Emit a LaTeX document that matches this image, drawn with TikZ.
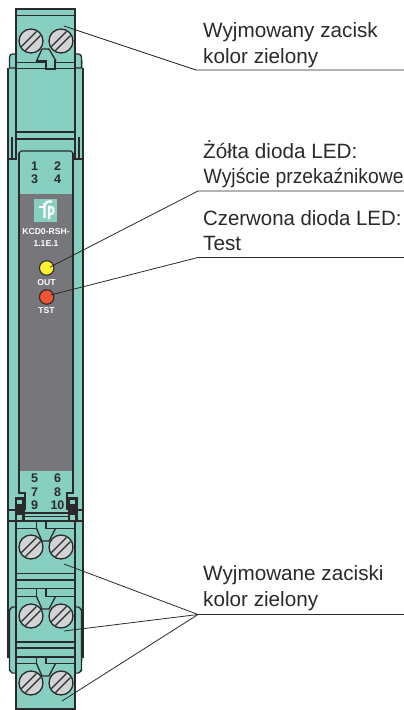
\documentclass[tikz,border=0pt]{standalone}
\usepackage{fontspec}
\setmainfont{Liberation Sans}
\definecolor{tealg}{HTML}{87CFC0}
\definecolor{greyp}{HTML}{77777B}
\definecolor{ink}{HTML}{2A2A2C}
\definecolor{screwc}{HTML}{D2D3D5}
\definecolor{ledyc}{HTML}{FFF033}
\definecolor{ledrc}{HTML}{EE5533}
\tikzset{
 px/.style={x=1pt,y=-1pt},
 body/.style={draw=ink,line width=1.3pt,fill=tealg},
 rule/.style={draw=ink,line width=1.3pt},
 heavy/.style={draw=ink,line width=2pt},
 leader/.style={draw=ink,line width=.8pt},
 lab/.style={anchor=base west,font=\fontsize{20.7}{24}\selectfont,text=ink,inner sep=0pt,align=left},
 term/.style={font=\bfseries\fontsize{12.5}{13}\selectfont,text=ink,inner sep=0pt},
 small/.style={font=\bfseries\fontsize{8.6}{9}\selectfont,text=white,inner sep=0pt},
 led/.style={draw=ink,line width=1.1pt,circle,minimum size=14.5pt,inner sep=0pt},
 screwdisc/.style={draw=ink,line width=1.3pt,fill=screwc},
 slot/.style={draw=ink,line width=1.2pt},
 logostroke/.style={draw=white,line width=2.2pt},
}
\newcommand{\screwpair}[1]{%
 \foreach \cx in {31,61}{
  \draw[screwdisc] (\cx,#1) circle[radius=12];
  \draw[slot] (\cx-9.5,#1+5.5) -- (\cx+5.5,#1-9.5);
  \draw[slot] (\cx-5.5,#1+9.5) -- (\cx+9.5,#1-5.5);
 }}
\begin{document}
\begin{tikzpicture}[px]
\useasboundingbox[fill=white] (0,0) rectangle (404,710);
% main housing
\fill[tealg] (9,60) rectangle (83,661);
\fill[tealg] (9.5,607.7) rectangle (15.5,672.3);
\fill[tealg] (75.5,607.7) rectangle (81.5,672.3);
\draw[rule] (16,607) -- (12.5,607) to[out=180,in=-90] (9.5,610) -- (9.5,670) to[out=90,in=180] (12.5,673) -- (16,673);
\draw[rule] (75,607) -- (78.5,607) to[out=0,in=-90] (81.5,610) -- (81.5,670) to[out=90,in=0] (78.5,673) -- (75,673);
\draw[heavy] (8.3,68) -- (8.3,658); \draw[heavy] (82.9,68) -- (82.9,658);
\draw[rule] (16,62) -- (16,159); \draw[rule] (75,62) -- (75,159);
\draw[rule] (16,132) -- (75,132); \draw[rule] (16,139) -- (75,139);
% top ears
\draw[body] (16,54) -- (12.5,54) to[out=180,in=90] (9.5,57) -- (9.5,68) -- (16,68);
\draw[body] (75,54) -- (78.5,54) to[out=0,in=90] (81.5,57) -- (81.5,68) -- (75,68);
% upper clips
\draw[rule] (12,137) -- (12,158); \draw[rule] (79,137) -- (79,158);
\draw[heavy] (8.3,159) -- (16.6,159); \draw[heavy] (74.4,159) -- (82.9,159);
% window
\fill[greyp] (19,194) rectangle (73,471);
\draw[rule] (21,151) -- (71,151) (19,153) -- (21,151) (71,151) -- (73,153);
\draw[rule] (19,153) -- (19,493) -- (25,493) -- (25,510);
\draw[rule] (73,153) -- (73,493) -- (67,493) -- (67,510);
% top terminal
\draw[body] (16,9) rectangle (75,68.5);
\draw[rule] (16,15.5) -- (75,15.5);
\draw[rule] (16,62.5) -- (46,62.5) (55,62.5) -- (75,62.5);
\fill[tealg] (46.6,60) rectangle (54.4,68.5);
\draw[rule] (36.5,62.5) -- (36.5,61) -- (46,61) -- (46,69) -- (55,69) -- (55,61) -- (56,61);
\draw[rule] (36.5,61) -- (42,49) -- (49,49) -- (56,61);
\screwpair{41}
% logo
\fill[tealg] (34,199) rectangle (57,222);
\draw[logostroke] (44.5,218) -- (44.5,205) to[out=-90,in=180] (48,201.5) -- (52,201.5);
\draw[logostroke] (39,207) -- (45,207);
\draw[logostroke] (49,219) -- (49,207) -- (51,207) to[out=0,in=90] (53.5,210) -- (53.5,211.5) to[out=-90,in=0] (51,214) -- (49,214);
% numbers
\node[term] (n1) at (34.5,166) {1};
\node[term] (n2) at (57.5,166) {2};
\node[term] (n3) at (34.5,179) {3};
\node[term] (n4) at (57.5,179) {4};
\node[term] (n5) at (34.5,478.5) {5};
\node[term] (n6) at (57.5,478.5) {6};
\node[term] (n7) at (34.5,492) {7};
\node[term] (n8) at (57.5,492) {8};
\node[term] (n9) at (34.5,505) {9};
\node[term] (n10) at (57.5,505) {10};
\node[small] (t1) at (46,231.5) {KCD0-RSH-};
\node[small] (t2) at (46,243.5) {1.1E.1};
\node[small] (out) at (46.5,283) {OUT};
\node[small] (tst) at (46.5,311) {TST};
\node[led,fill=ledyc] (ledy) at (46.7,268) {};
\node[led,fill=ledrc] (ledr) at (46.7,297) {};
% lower clips
\foreach \xa/\xb in {14.5/24.5,67.5/77.5}{
 \fill[ink] (\xa,497) rectangle (\xb,522);
 \fill[tealg] (\xa+2.5,499.5) rectangle (\xb-2.5,503.5);
 \fill[tealg] (\xa+2.5,515) rectangle (\xb-2.5,520);
}
\draw[rule] (8.3,510) -- (15,510); \draw[rule] (77,510) -- (82.9,510);
\draw[rule] (24,513) -- (68,513); \draw[rule] (24,516.5) -- (68,516.5);
\draw[heavy] (8.3,521) -- (82.9,521);
% terminal 1
\draw[rule] (16,521) -- (16,657); \draw[rule] (75,521) -- (75,657);
\draw[rule] (16,528.5) -- (36.5,528.5) -- (36.5,521);
\draw[rule] (46,521) -- (46,528.5) -- (75,528.5);
\draw[rule] (36.5,528.5) -- (42,541) -- (49,541) -- (55.5,528.5);
\screwpair{547}
\draw[rule] (16,573.5) -- (75,573.5); \draw[rule] (16,580) -- (75,580);
% terminal 2
\draw[rule] (16,588.5) -- (75,588.5);
\draw[rule] (16,596.5) -- (36.5,596.5) -- (36.5,588.5) (46,588.5) -- (46,596.5) -- (75,596.5);
\draw[rule] (36.5,596.5) -- (42,609) -- (49,609) -- (55.5,596.5);
\screwpair{616}
\draw[rule] (16,642) -- (75,642); \draw[rule] (16,648) -- (75,648);
% terminal 3
\draw[body] (16,657) rectangle (75,709);
\draw[rule] (16,663.5) -- (36.5,663.5) -- (36.5,657) (46,657) -- (46,663.5) -- (75,663.5);
\draw[rule] (36.5,663.5) -- (42,676) -- (49,676) -- (55.5,663.5);
\screwpair{683}
% labels
\node[lab] (a) at (203,37) {Wyjmowany zacisk};
\node[lab] (a2) at (203,63) {kolor zielony};
\node[lab] (b) at (203,158) {Żółta dioda LED:};
\node[lab,transform shape,xscale=.935] (b2) at (203.5,183) {Wyjście przekaźnikowe};
\node[lab,transform shape,xscale=.985] (c) at (203,225) {Czerwona dioda LED:};
\node[lab] (c2) at (203,250) {Test};
\node[lab] (d) at (203,580) {Wyjmowane zaciski};
\node[lab] (d2) at (203,606) {kolor zielony};
% leaders
\coordinate (la) at (64,26); \coordinate (lb) at (196,70); \coordinate (lc) at (404,70);
\draw[leader] (la) -- (lb) -- (lc);
\coordinate (yt) at ([shift={(3.5,-1)}]ledy.center);
\coordinate (rt) at ([shift={(4,-2)}]ledr.center);
\coordinate (yj) at (198,191); \coordinate (ye) at (404,191);
\draw[leader] (yt) -- (yj) -- (ye);
\coordinate (rj) at (198,257.5); \coordinate (re) at (404,257.5);
\draw[leader] (rt) -- (rj) -- (re);
\coordinate (gj) at (198,614.5); \coordinate (ge) at (404,614.5);
\coordinate (g1) at (64,564); \coordinate (g2) at (64,631); \coordinate (g3) at (62,701);
\draw[leader] (g1) -- (gj) -- (ge);
\draw[leader] (g2) -- (gj);
\draw[leader] (g3) -- (gj);
\end{tikzpicture}
\end{document}
